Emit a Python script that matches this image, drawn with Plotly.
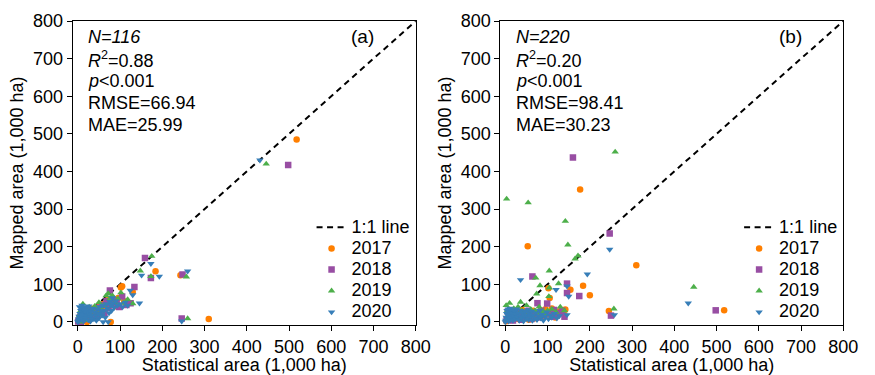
import plotly.graph_objects as go

# ---------------- data (1,000 ha): (statistical, mapped) ----------------
years = ["2017", "2018", "2019", "2020"]
colors = ["#ff7f00", "#984ea3", "#4daf4a", "#377eb8"]
symbols = ["circle", "square", "triangle-up", "triangle-down"]

a2017 = [(518, 485), (184, 135), (130, 80), (105, 95), (243, 124), (310, 8),
         (2, 2), (4, 8), (6, 15), (8, 4), (10, 25), (12, 12), (15, 30), (18, 6),
         (20, 18), (25, 28), (28, 10), (32, 22), (36, 35), (40, 15), (45, 30),
         (50, 40), (55, 20), (60, 48), (65, 35), (70, 58), (78, 0), (82, 50),
         (90, 42), (96, 64), (102, 92), (110, 55), (120, 50), (3, 0), (14, 2), (22, 0)]
a2018 = [(498, 417), (159, 170), (173, 117), (248, 126), (134, 93), (246, 9), (76, 84),
         (3, 3), (5, 12), (8, 20), (11, 6), (14, 28), (17, 14), (21, 24), (26, 8),
         (30, 32), (34, 18), (38, 26), (44, 12), (48, 38), (53, 28), (58, 45),
         (63, 22), (68, 55), (73, 38), (80, 62), (86, 48), (92, 58), (98, 40),
         (105, 68), (115, 45), (125, 50), (1, 1), (7, 0)]
a2019 = [(446, 420), (175, 175), (148, 136), (173, 121), (257, 120), (260, 9), (130, 49),
         (2, 5), (4, 18), (7, 30), (9, 10), (12, 48), (15, 22), (19, 36), (23, 14),
         (27, 40), (31, 20), (35, 30), (40, 42), (46, 24), (50, 52), (56, 34),
         (62, 44), (67, 70), (72, 76), (76, 62), (82, 70), (88, 52), (95, 62),
         (102, 78), (108, 50), (118, 60), (5, 0), (16, 4)]
a2020 = [(431, 430), (173, 155), (151, 124), (193, 121), (260, 135), (246, 2), (146, 50),
         (0, 0), (1, 2), (2, 8), (3, 15), (4, 4), (5, 22), (6, 10), (7, 30), (8, 18),
         (9, 38), (10, 6), (11, 26), (12, 14), (13, 34), (14, 2), (15, 20), (16, 28),
         (18, 10), (19, 40), (20, 24), (22, 16), (24, 32), (25, 5), (27, 22),
         (29, 12), (31, 28), (33, 18), (35, 36), (38, 8), (40, 26), (42, 16),
         (45, 34), (48, 22), (50, 10), (52, 40), (55, 28), (58, 18), (60, 44),
         (62, 30), (65, 12), (68, 48), (70, 36), (72, 0), (74, 24), (76, 54),
         (78, 44), (80, 30), (82, 64), (84, 50), (86, 38), (90, 56), (94, 44),
         (100, 48), (106, 40), (112, 52), (118, 44), (124, 84), (130, 72), (60, 0),
         (4, 40), (10, 44), (18, 30), (26, 42), (34, 8), (44, 4), (52, 20), (30, 2)]

b2017 = [(177, 352), (53, 201), (310, 151), (184, 96), (200, 71), (154, 86), (245, 29),
         (518, 31), (102, 90), (105, 64), (142, 33),
         (2, 2), (5, 10), (8, 20), (12, 5), (16, 25), (20, 14), (25, 30), (30, 8),
         (35, 20), (40, 32), (45, 12), (50, 26), (56, 6), (60, 18), (66, 30),
         (72, 10), (80, 24), (88, 14), (95, 34), (102, 20), (110, 36), (118, 12),
         (125, 28), (132, 30), (138, 22)]
b2018 = [(160, 437), (247, 235), (64, 121), (146, 102), (146, 77), (175, 69), (498, 31),
         (250, 17), (99, 49),
         (3, 5), (6, 28), (9, 12), (13, 20), (18, 4), (22, 16), (27, 10), (32, 24),
         (38, 6), (44, 18), (50, 14), (55, 30), (62, 8), (70, 22), (76, 50),
         (80, 12), (85, 30), (92, 18), (104, 24), (110, 14), (115, 32),
         (120, 20), (128, 24), (135, 30), (140, 14)]
b2019 = [(260, 452), (3, 327), (54, 317), (142, 268), (148, 205), (172, 176), (165, 168),
         (104, 136), (72, 117), (82, 97), (126, 102), (104, 91), (446, 93), (257, 35),
         (103, 68), (74, 75), (36, 53), (10, 50),
         (2, 44), (5, 30), (15, 20), (20, 36), (25, 12), (30, 40), (35, 26),
         (40, 30), (45, 16), (50, 44), (55, 22), (60, 34), (65, 14), (70, 30),
         (75, 24), (80, 40), (85, 18), (90, 28), (95, 20), (100, 30), (110, 34),
         (120, 26), (130, 40), (140, 30)]
b2020 = [(36, 112), (247, 193), (194, 127), (146, 95), (120, 86), (150, 68), (433, 50),
         (258, 19), (146, 19),
         (0, 0), (1, 4), (2, 12), (3, 22), (4, 30), (5, 8), (6, 18), (7, 34), (8, 2),
         (9, 26), (10, 14), (11, 36), (12, 6), (13, 20), (14, 30), (15, 10),
         (16, 24), (18, 4), (19, 32), (20, 16), (22, 28), (24, 8), (25, 20),
         (27, 34), (29, 12), (31, 24), (33, 4), (35, 16), (37, 30), (39, 10),
         (41, 22), (43, 2), (45, 14), (47, 28), (49, 8), (51, 18), (53, 32),
         (55, 6), (57, 22), (59, 14), (62, 28), (64, 4), (66, 18), (69, 10),
         (72, 24), (75, 6), (78, 16), (81, 30), (84, 10), (87, 20), (90, 4),
         (94, 14), (98, 26), (102, 8), (106, 18), (110, 12), (116, 22), (122, 10),
         (128, 16)]

stats_a = ["<i>N=116</i>", "<i>R</i><sup>2</sup>=0.88", "<i>p</i><0.001", "RMSE=66.94", "MAE=25.99"]
stats_b = ["<i>N=220</i>", "<i>R</i><sup>2</sup>=0.20", "<i>p</i><0.001", "RMSE=98.41", "MAE=30.23"]
panel_labels = ["(a)", "(b)"]
line_name = "1:1 line"
line_range = [0, 800]
tick_vals = [0, 100, 200, 300, 400, 500, 600, 700, 800]

FONT = "Liberation Sans, Arial, sans-serif"
FS = 18
LEG_FS = 18


def leg_label(s):
    return '<span style="font-size:%dpx">%s</span>' % (LEG_FS, s)


fig = go.Figure()

panels = [
    ("x", "y", "legend", [a2017, a2018, a2019, a2020]),
    ("x2", "y2", "legend2", [b2017, b2018, b2019, b2020]),
]

for xa, ya, leg, series in panels:
    fig.add_trace(go.Scatter(
        x=line_range, y=line_range, mode="lines", name=leg_label(line_name),
        line=dict(color="black", width=2, dash="6px,4.5px"),
        xaxis=xa, yaxis=ya, legend=leg))
    for yr, col, sym, pts in zip(years, colors, symbols, series):
        fig.add_trace(go.Scatter(
            x=[p[0] for p in pts], y=[p[1] for p in pts], mode="markers", name=leg_label(yr),
            marker=dict(color=col, symbol=sym, size=6.5, line=dict(width=0)),
            xaxis=xa, yaxis=ya, legend=leg))

axis_common = dict(
    range=[-12, 800], tickvals=tick_vals, showgrid=False, zeroline=False,
    showline=True, linecolor="black", linewidth=1, mirror=True,
    ticks="outside", ticklen=5, tickcolor="black", tickwidth=1,
    tickfont=dict(family=FONT, size=FS, color="black"),
)
yaxis_common = dict(axis_common)
yaxis_common["range"] = [-8, 800]

fig.update_layout(
    width=875, height=375,
    margin=dict(l=0, r=0, t=21, b=50),
    plot_bgcolor="white", paper_bgcolor="white",
    font=dict(family=FONT, size=FS, color="black"),
    xaxis=dict(axis_common, domain=[74 / 875, 423 / 875],
               title=dict(text="Statistical area (1,000 ha)", font=dict(size=FS), standoff=2)),
    yaxis=dict(yaxis_common, anchor="x",
               title=dict(text="Mapped area (1,000 ha)", font=dict(size=FS), standoff=4)),
    xaxis2=dict(axis_common, domain=[509 / 875, 858 / 875], anchor="y2",
                title=dict(text="Statistical area (1,000 ha)", font=dict(size=FS), standoff=2)),
    yaxis2=dict(yaxis_common, anchor="x2",
                title=dict(text="Mapped area (1,000 ha)", font=dict(size=FS), standoff=4)),
    legend=dict(x=317 / 875, y=0.373, xanchor="left", yanchor="top",
                bgcolor="rgba(0,0,0,0)", font=dict(size=14), tracegroupgap=0),
    legend2=dict(x=752 / 875, y=0.373, xanchor="left", yanchor="top",
                 bgcolor="rgba(0,0,0,0)", font=dict(size=14), tracegroupgap=0),
    showlegend=True,
)

annotations = []
for (xref, yref, stats, lab) in [("x domain", "y domain", stats_a, panel_labels[0]),
                                 ("x2 domain", "y2 domain", stats_b, panel_labels[1])]:
    for i, s in enumerate(stats):
        annotations.append(dict(
            x=0.04, y=1 - (16 + 22 * i) / 304, xref=xref, yref=yref,
            text=s, showarrow=False, xanchor="left", yanchor="middle",
            font=dict(family=FONT, size=FS, color="black")))
    annotations.append(dict(
        x=0.845, y=1 - 16 / 304, xref=xref, yref=yref, text=lab, showarrow=False,
        xanchor="center", yanchor="middle", font=dict(family=FONT, size=FS + 1, color="black")))
fig.update_layout(annotations=annotations)

fig.write_html("out.html", config={"displayModeBar": False},
               post_script="document.body.style.margin='0';document.body.style.overflow='hidden';")
